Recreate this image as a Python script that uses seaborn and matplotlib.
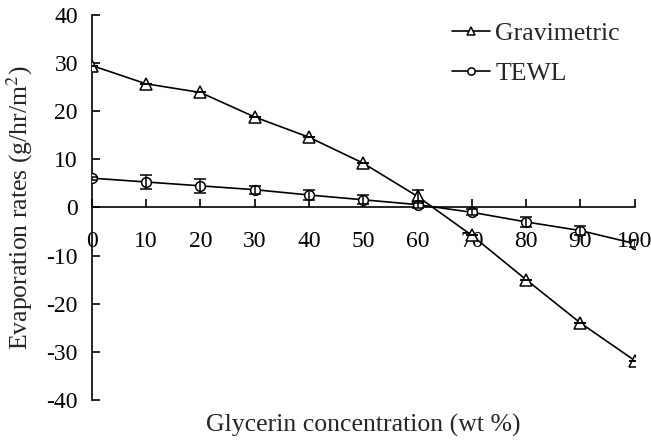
import pandas as pd
import matplotlib.pyplot as plt
import seaborn as sns

# values
glycerin = [0, 10, 20, 30, 40, 50, 60, 70, 80, 90, 100]
gravimetric = [29.5, 25.7, 23.9, 18.8, 14.6, 9.2, 2.3, -5.8, -15.0, -24.0, -31.8]
gravimetric_err = [0, 0, 0, 0, 0, 0, 1.3, 0, 0, 0, 0]
tewl = [6.1, 5.3, 4.5, 3.7, 2.6, 1.6, 0.6, -1.0, -3.0, -4.8, -7.5]
tewl_err = [0.3, 1.5, 1.5, 0.8, 1.0, 0.9, 0.8, 0.6, 1.1, 0.9, 0.7]

df = pd.DataFrame({"Glycerin": glycerin, "Gravimetric": gravimetric, "TEWL": tewl})

sns.set_style("white")
plt.rcParams["font.family"] = ["Liberation Serif", "DejaVu Serif"]
plt.rcParams["mathtext.fontset"] = "stix"
plt.rcParams["axes.unicode_minus"] = False

fig = plt.figure(figsize=(6.51, 4.41), dpi=100)
ax = fig.add_axes([0.141, 0.093, 0.834, 0.873])

# error bars
ax.errorbar(df["Glycerin"], df["TEWL"], yerr=tewl_err, fmt="none",
            ecolor="black", elinewidth=1.1, capsize=4, capthick=1.1, zorder=4)
ax.errorbar(df["Glycerin"], df["Gravimetric"], yerr=gravimetric_err, fmt="none",
            ecolor="black", elinewidth=1.1, capsize=4, capthick=1.1, zorder=4)

sns.lineplot(data=df, x="Glycerin", y="Gravimetric", ax=ax, color="black",
             marker="^", markersize=8, markerfacecolor="white",
             markeredgecolor="black", markeredgewidth=1.1, linewidth=1.2,
             label="Gravimetric", zorder=3)
sns.lineplot(data=df, x="Glycerin", y="TEWL", ax=ax, color="black",
             marker="o", markersize=7, markerfacecolor="white",
             markeredgecolor="black", markeredgewidth=1.1, linewidth=1.2,
             label="TEWL", zorder=3)

ax.set_xlim(0, 100)
ax.set_ylim(-40, 40)
ax.set_xticks(glycerin)
ax.set_yticks(range(-40, 41, 10))

ax.spines["top"].set_visible(False)
ax.spines["right"].set_visible(False)
ax.spines["bottom"].set_position(("data", 0))
for s in ["left", "bottom"]:
    ax.spines[s].set_color("black")
    ax.spines[s].set_linewidth(1.2)

ax.tick_params(axis="x", direction="in", length=6, width=1.2, pad=17,
               labelsize=17, colors="black", bottom=True)
ax.tick_params(axis="y", direction="in", length=6, width=1.2, pad=10,
               labelsize=17, colors="black", left=True)

ax.set_xlabel("Glycerin concentration (wt %)", fontsize=18.5)
ax.xaxis.set_label_coords(0.5, -0.035)
ax.set_ylabel("Evaporation rates (g/hr/m$^2$)", fontsize=18.5)
ax.yaxis.set_label_coords(-0.105, 0.5)

ax.legend(loc="upper left", bbox_to_anchor=(0.663, 0.982), frameon=False,
          fontsize=18.5, handlelength=1.5, handletextpad=0.2, labelspacing=0.67,
          borderpad=0, borderaxespad=0, markerscale=0.75)

fig.savefig("out.png", dpi=100)
